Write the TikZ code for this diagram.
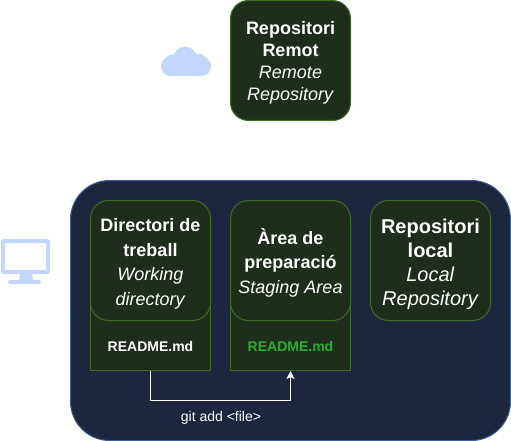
\documentclass[tikz,border=0pt]{standalone}
\usepackage{fontspec}
\usetikzlibrary{arrows.meta}
\setmainfont{Liberation Sans}
\definecolor{repofill}{HTML}{1F2D1C}
\definecolor{repoline}{HTML}{3F6B26}
\definecolor{hostfill}{HTML}{1C273E}
\definecolor{hostline}{HTML}{3E5F94}
\definecolor{iconblue}{HTML}{C3D6FF}
\definecolor{stagedgreen}{HTML}{2AB02A}
\begin{document}
\begin{tikzpicture}
      [
      x=1pt,y=-1pt,line width=1pt,
      host/.style={draw=hostline,fill=hostfill,rounded corners=39pt,minimum width=440pt,minimum height=260pt},
      repo/.style={draw=repoline,fill=repofill,rounded corners=18pt,minimum size=120pt,inner sep=0pt,align=center,text=white,font=\fontsize{18}{22}\selectfont},
      repowide/.style={repo,font=\fontsize{18}{24.5}\selectfont},
      repolocal/.style={repo,font=\fontsize{20}{24}\selectfont},
      file/.style={draw=repoline,fill=repofill,minimum width=120pt,inner sep=0pt,text height=51pt,text depth=19pt,font=\fontsize{14}{18}\selectfont\bfseries}
      ]
      \useasboundingbox (0,0) rectangle (511,441);
      \node (host) at (290.5,310.5) [host] {};
      \node (remote) at (290.5,60.5) [repo] {\rule{0pt}{17pt}\textbf{Repositori}\\\textbf{Remot}\\\textit{Remote}\\\textit{Repository}};
      \node (workfile) at (150.5,335.5) [file,text=white] {README.md};
      \node (stagefile) at (290.5,335.5) [file,text=stagedgreen] {README.md};
      \node (work) at (150.5,260.5) [repowide] {\rule{0pt}{20pt}\textbf{Directori de}\\\textbf{treball}\\\textit{Working}\\\textit{directory}};
      \node (stage) at (290.5,260.5) [repowide] {\rule{0pt}{20pt}\textbf{Àrea de}\\\textbf{preparació}\\\textit{Staging Area}};
      \node (local) at (430.5,260.5) [repolocal] {\rule{0pt}{21.5pt}\textbf{Repositori}\\\textbf{local}\\\textit{Local}\\\textit{Repository}};
      \coordinate (bend) at (150.5,400.5);
      \draw [-{Stealth[length=8pt,width=8pt,inset=2pt]},white] (workfile) to (bend) -| (stagefile);
      \node (gitadd) at (221,418) [text=white,font=\fontsize{14}{16}\selectfont] {git add <file>};
      % cloud
      \fill [iconblue,rounded corners=9.5pt] (161,56.5) rectangle (211,76);
      \fill [iconblue] (173,64) circle (9.5) (185,58) circle (11.5) (198,63) circle (9.5);
      % monitor
      \draw [iconblue,line width=4pt,rounded corners=1pt] (3,241) rectangle (48,272);
      \fill [iconblue] (20,274) -- (32,274) -- (33,281) -- (19,281) -- cycle;
      \fill [iconblue,rounded corners=1.5pt] (8,280) rectangle (41,284);
    \end{tikzpicture}
\end{document}
